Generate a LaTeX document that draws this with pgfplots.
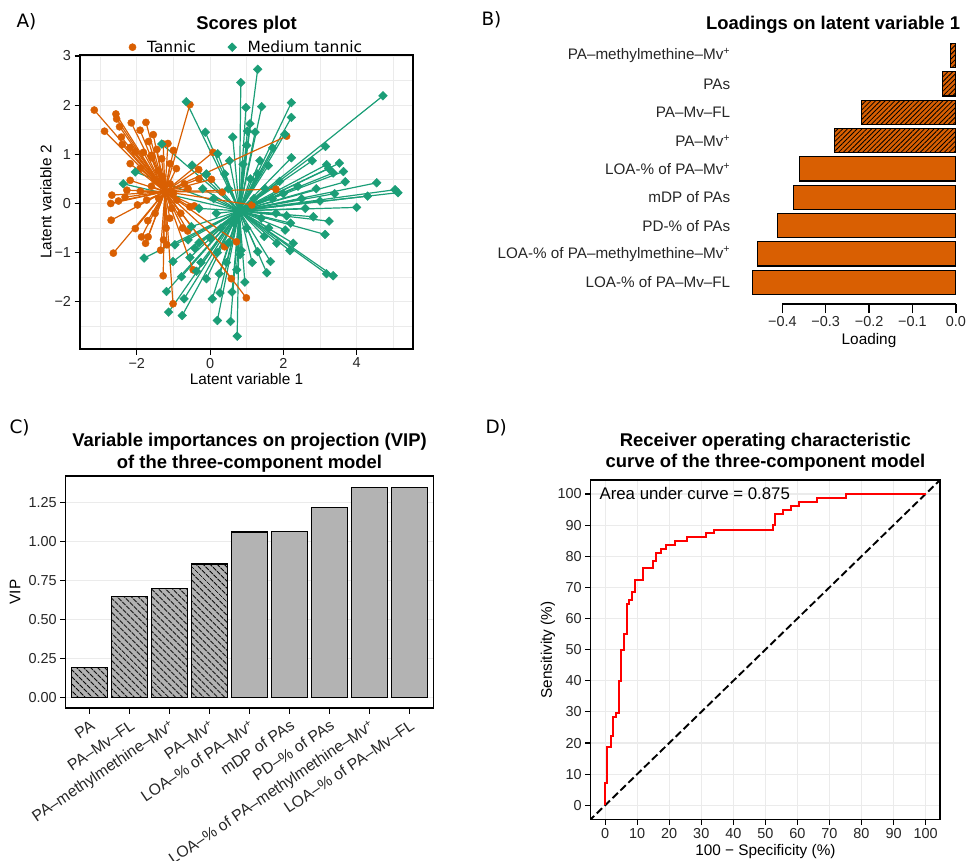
\documentclass[border=0pt]{standalone}
\usepackage{pgfplots}
\pgfplotsset{compat=1.18}
\usepackage{pgfplotstable}
\usepackage{fontspec}
\setmainfont{Liberation Sans}
\newfontfamily\dejavu{DejaVu Sans}
\usetikzlibrary{patterns.meta}
\definecolor{tann}{HTML}{D95F02}
\definecolor{medt}{HTML}{1B9E77}
\definecolor{gridc}{HTML}{EBEBEB}
\definecolor{barg}{HTML}{B3B3B3}
\definecolor{rocred}{HTML}{FF0000}
\newcommand{\fs}[1]{\fontsize{#1}{#1}\selectfont}

% Panel A scores
\pgfplotstableread{
x y
-3.16 1.90
-2.88 1.47
-2.57 1.82
-2.55 1.72
-2.47 1.56
-2.15 1.64
-1.91 1.49
-2.42 1.35
-1.68 1.26
-2.18 1.14
-1.82 1.04
-1.60 0.98
-2.18 0.81
-1.91 0.71
-2.68 0.17
-2.71 0.00
-2.70 -0.34
-2.64 -1.01
-2.18 0.47
-1.98 -0.03
-2.04 -0.51
-1.87 -0.68
-1.76 -0.81
-1.69 -0.68
-1.27 -0.74
-1.28 -1.47
-1.18 -0.84
-1.01 -2.04
-0.55 2.01
-1.28 1.21
-1.15 1.22
-1.32 0.91
-1.09 0.81
-0.92 0.71
-0.31 0.69
0.04 0.49
0.08 1.04
2.09 1.37
1.80 0.29
1.14 -0.03
0.72 -0.78
0.40 -0.88
0.58 -1.53
0.99 -1.92
-0.46 -1.35
-0.61 -0.56
-0.55 -0.07
-0.43 -0.05
-0.91 0.07
-1.41 0.67
-1.59 0.93
-2.27 0.27
-2.32 0.13
-1.73 0.07
-1.09 0.40
-1.00 1.08
-1.50 0.47
-1.40 0.10
-1.00 0.20
-1.60 0.35
-1.10 -0.30
-0.80 -0.20
-1.50 -0.20
-1.90 0.25
-0.70 0.40
-1.30 0.55
-1.20 -0.50
-2.40 1.20
-1.75 1.65
-1.45 1.10
-0.60 0.30
-0.30 0.50
-1.05 -0.10
-1.70 -0.35
-2.50 0.05
-0.75 -0.50
-1.35 -0.95
-1.55 1.40
-2.05 1.05
0.33 0.23
}\tannic

\pgfplotstableread{
x y
1.30 2.73
0.84 2.46
-0.65 2.07
0.98 1.95
1.41 1.97
2.22 2.05
2.22 1.75
1.09 1.62
1.23 1.45
2.04 1.41
0.62 1.35
1.02 1.47
-0.13 1.45
-1.32 1.21
0.21 1.01
0.53 0.87
1.00 1.18
1.71 1.13
2.22 0.93
1.36 0.87
1.59 0.77
3.15 1.16
2.79 0.87
3.53 0.82
3.18 0.79
3.24 0.71
3.64 0.65
3.36 0.62
3.69 0.44
4.55 0.42
5.05 0.28
5.13 0.22
4.72 2.19
4.00 -0.08
3.25 -0.36
3.14 -0.63
2.82 -0.27
2.09 -0.25
2.05 -0.54
2.27 -0.81
2.18 -0.96
1.82 -0.81
1.55 -1.41
1.65 -1.18
1.30 -0.98
1.48 -0.67
3.18 -1.43
3.36 -1.47
0.82 -1.04
0.73 -1.35
0.74 -2.70
0.56 -2.40
0.20 -2.38
0.06 -1.94
0.27 -1.82
-0.10 -1.53
0.25 -1.43
-0.37 -1.38
-0.42 -0.91
-0.60 -0.74
-0.96 -0.84
-1.80 -1.11
-1.01 -1.18
-0.78 -1.49
-1.19 -1.79
-0.71 -1.94
-1.13 -2.21
-0.76 -2.28
0.85 -0.95
0.17 -0.20
-0.51 -0.47
-2.04 0.64
-2.37 0.40
-0.49 0.78
1.20 0.10
1.50 0.30
1.80 -0.20
2.50 0.10
2.40 0.35
1.90 0.45
2.60 -0.10
1.10 0.50
0.50 0.30
0.10 0.10
-0.30 -0.10
0.30 -0.50
0.00 -0.70
0.50 -0.80
1.00 -0.50
1.40 -0.30
0.90 0.80
0.40 0.60
-0.20 0.30
2.90 0.30
3.00 0.05
2.20 -0.40
1.70 0.10
0.65 -0.40
0.20 -1.00
-0.30 -0.80
-0.10 0.60
1.30 0.60
2.00 0.20
1.60 -0.50
3.40 0.20
4.30 0.15
0.95 -1.60
0.45 -1.20
-0.55 -1.10
1.15 -1.20
0.60 -1.80
-0.25 -1.20
}\medium

% Panel B loadings
\pgfplotstableread{
i v
1 -0.013
2 -0.031
3 -0.218
4 -0.280
}\loadhatch
\pgfplotstableread{
i v
5 -0.361
6 -0.375
7 -0.411
8 -0.457
9 -0.468
}\loadsolid

% Panel C VIP
\pgfplotstableread{
i v
1 0.19
2 0.645
3 0.700
4 0.855
}\viphatch
\pgfplotstableread{
i v
5 1.060
6 1.062
7 1.215
8 1.343
9 1.346
}\vipsolid

\begin{document}
\begin{tikzpicture}
\path[use as bounding box] (0,0) rectangle (967bp,-861bp);
\pgfplotsset{
  every axis/.append style={
    scale only axis, enlargelimits=false,
    axis line style={line width=1.2bp, black},
    tick style={line width=1.1bp, black},
    major tick length=5.5bp, minor tick length=0pt, tick align=outside,
    tick label style={font=\fs{14.5}, text=black!85},
    grid style={gridc, line width=1.1bp},
  },
}

% ---------------- Panel A ----------------
\begin{axis}[at={(80bp,-55bp)}, anchor=north west, width=333bp, height=294bp,
  xmin=-3.55, xmax=5.54, ymin=-2.96, ymax=3.02,
  xtick={-2,0,2,4}, xticklabels={−2,0,2,4},
  ytick={-2,-1,0,1,2,3}, yticklabels={−2,−1,0,1,2,3},
  minor xtick={-3,-1,1,3,5}, minor ytick={-2.5,-1.5,-0.5,0.5,1.5,2.5},
  grid=both, minor grid style={gridc, line width=0.7bp},
  tick pos=left,
  legend style={draw=none, fill=none, at={(0.5,1)}, anchor=south, yshift=-1bp,
    legend columns=2, font=\dejavu\fs{15.5}, inner sep=0pt,
    /tikz/every odd column/.append style={column sep=9bp},
    /tikz/every even column/.append style={column sep=30bp}},
  legend cell align=left,
]
\addplot[medt, line width=1.2bp, no markers, forget plot,
  quiver={u={0.80-(\thisrow{x})}, v={-0.15-(\thisrow{y})}}] table[x=x,y=y] {\medium};
\addplot[tann, line width=1.2bp, no markers, forget plot,
  quiver={u={-1.23-(\thisrow{x})}, v={0.24-(\thisrow{y})}}] table[x=x,y=y] {\tannic};
\addplot[only marks, mark=*, mark size=3.6bp, tann] table[x=x,y=y] {\tannic};
\addlegendentry{Tannic}
\addplot[only marks, mark=square*, mark size=3.1bp, mark options={rotate=45}, medt] table[x=x,y=y] {\medium};
\addlegendentry{Medium tannic}
\end{axis}

% ---------------- Panel B ----------------
\begin{axis}[at={(742.7bp,-38.5bp)}, anchor=north west, width=223.3bp, height=265.6bp,
  xmin=-0.4914, xmax=0.0234, ymin=0.4, ymax=9.77, y dir=reverse,
  axis line style={draw=none}, tick pos=left,
  xtick={-0.4,-0.3,-0.2,-0.1,0}, xticklabels={−0.4,−0.3,−0.2,−0.1,0.0},
  ytick={1,...,9},
  yticklabels={PA–methylmethine–Mv\textsuperscript{+}, PAs, PA–Mv–FL, PA–Mv\textsuperscript{+}, LOA-\% of PA–Mv\textsuperscript{+}, mDP of PAs, PD-\% of PAs, LOA-\% of PA–methylmethine–Mv\textsuperscript{+}, LOA-\% of PA–Mv–FL},
  yticklabel style={font=\fs{15.3}, text=black!85},
  ytick style={draw=none},
  xtick style={line width=1.4bp},
  major tick length=9bp,
  xbar, bar width=0.85, bar shift=0pt,
  clip=false,
]
\addplot[fill=tann, draw=black, line width=1.2bp,
  postaction={pattern={Lines[angle=45,distance=3.4bp,line width=0.8bp]}, pattern color=black}]
  table[x=v,y=i] {\loadhatch};
\addplot[fill=tann, draw=black, line width=1.2bp] table[x=v,y=i] {\loadsolid};
\draw[line width=1.5bp] (axis cs:-0.4,9.77) -- (axis cs:0,9.77);
\end{axis}

% ---------------- Panel C ----------------
\begin{axis}[at={(65.7bp,-476bp)}, anchor=north west, width=367.6bp, height=232bp,
  xmin=0.4, xmax=9.6, ymin=-0.0686, ymax=1.4186,
  ybar, bar width=0.9, bar shift=0pt,
  tick pos=left,
  xtick={1,...,9},
  xticklabels={PA, PA–Mv–FL, PA–methylmethine–Mv\textsuperscript{+}, PA–Mv\textsuperscript{+}, LOA–\% of PA–Mv\textsuperscript{+}, mDP of PAs, PD–\% of PAs, LOA–\% of PA–methylmethine–Mv\textsuperscript{+}, LOA–\% of PA–Mv–FL},
  xticklabel shift=13bp,
  xticklabel style={xshift=9bp, rotate=34, anchor=base east, font=\fs{15.8}},
  ytick={0,0.25,0.5,0.75,1,1.25}, yticklabels={0.00,0.25,0.50,0.75,1.00,1.25},
  ymajorgrids,
]
\addplot[fill=barg, draw=black, line width=1.2bp,
  postaction={pattern={Lines[angle=-45,distance=5.2bp,line width=1bp]}, pattern color=black}]
  table[x=i,y=v] {\viphatch};
\addplot[fill=barg, draw=black, line width=1.2bp] table[x=i,y=v] {\vipsolid};
\end{axis}

% ---------------- Panel D ----------------
\begin{axis}[at={(590.7bp,-480bp)}, anchor=north west, width=349.3bp, height=339.3bp,
  xmin=-4.5, xmax=104.5, ymin=-4.5, ymax=104.5,
  xtick={0,10,...,100}, ytick={0,10,...,100},
  xticklabels={0,10,20,30,40,50,60,70,80,90,100},
  yticklabels={0,10,20,30,40,50,60,70,80,90,100},
  grid=major, tick pos=left,
]
\addplot[draw=black, line width=1.9bp, dash pattern=on 7.5bp off 3.5bp] coordinates {(-10,-10) (110,110)};
\addplot[draw=rocred, solid, line width=2bp] coordinates {
(0,0) (0,7.3) (0.7,7.3) (0.7,18.8) (1.8,18.8) (1.8,22.3) (2.6,22.3) (2.6,28.4)
(3.3,28.4) (3.3,29.8) (4.4,29.8) (4.4,39.9) (5.1,39.9) (5.1,49.8) (5.8,49.8)
(5.8,54.9) (6.8,54.9) (6.8,64.8) (7.5,64.8) (7.5,66.1) (8.3,66.1) (8.3,68.6)
(9.2,68.6) (9.2,72.3) (11.8,72.3) (11.8,76.1) (15,76.1) (15,78.6) (16,78.6)
(16,81.1) (17.5,81.1) (17.5,82.3) (19.1,82.3) (19.1,83.6) (21.7,83.6) (21.7,84.9)
(25.7,84.9) (25.7,86.1) (31.6,86.1) (31.6,87.4) (33.9,87.4) (33.9,88.6) (52.3,88.6)
(52.3,89.9) (52.9,89.9) (52.9,93.6) (55.4,93.6) (55.4,94.9) (57.9,94.9) (57.9,96.2)
(60.4,96.2) (60.4,97.4) (66.1,97.4) (66.1,98.7) (75.2,98.7) (75.2,100) (100,100)};
\end{axis}

% ---------------- texts ----------------
\node[font=\dejavu\fs{18.5}, anchor=west] at (13bp,-22bp) {A)};
\node[font=\bfseries\fs{18.5}] at (246.5bp,-25bp) {Scores plot};
\node[font=\fs{15.4}] at (246.5bp,-379bp) {Latent variable 1};
\node[font=\fs{15.4}, rotate=90] at (46bp,-202bp) {Latent variable 2};

\node[font=\dejavu\fs{18.5}, anchor=west] at (478bp,-20bp) {B)};
\node[font=\bfseries\fs{18.5}] at (833bp,-25bp) {Loadings on latent variable 1};
\node[font=\fs{15.4}] at (869bp,-341bp) {Loading};

\node[font=\dejavu\fs{18.5}, anchor=west] at (6bp,-428bp) {C)};
\node[font=\bfseries\fontsize{18.5}{21.6}\selectfont, align=center] at (249.5bp,-452.5bp) {Variable importances on projection (VIP)\\of the three-component model};
\node[font=\fs{15.4}, rotate=90] at (15bp,-592bp) {VIP};

\node[font=\dejavu\fs{18.5}, anchor=west] at (482bp,-428bp) {D)};
\node[font=\bfseries\fontsize{18.5}{21.6}\selectfont, align=center] at (765.4bp,-452bp) {Receiver operating characteristic\\curve of the three-component model};
\node[font=\fs{15.4}, rotate=90] at (548bp,-650bp) {Sensitivity (\%)};
\node[font=\fs{15.4}] at (765.4bp,-852bp) {100 − Specificity (\%)};
\node[font=\fs{16.9}, anchor=west] at (596bp,-493bp) {Area under curve = 0.875};
\end{tikzpicture}
\end{document}
